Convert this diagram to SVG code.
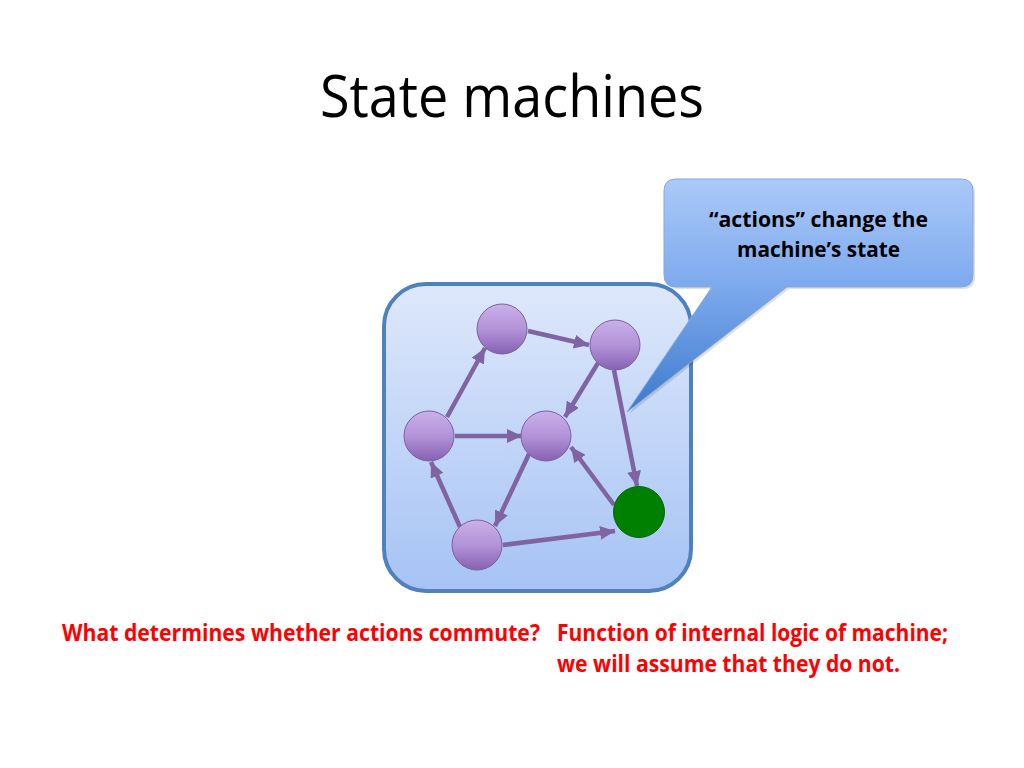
<svg xmlns="http://www.w3.org/2000/svg" width="1024" height="768" viewBox="0 0 1024 768">
<defs>
<linearGradient id="boxg" x1="0" y1="0" x2="0" y2="1">
<stop offset="0" stop-color="#dee8fb"/>
<stop offset="1" stop-color="#a6c3f5"/>
</linearGradient>
<linearGradient id="callg" gradientUnits="userSpaceOnUse" x1="0" y1="179" x2="0" y2="413">
<stop offset="0" stop-color="#abc9f8"/>
<stop offset="0.45" stop-color="#7eaaee"/>
<stop offset="1" stop-color="#3c7acb"/>
</linearGradient>
<linearGradient id="nodeg" x1="0" y1="0" x2="0" y2="1">
<stop offset="0" stop-color="#cbb0ea"/>
<stop offset="0.5" stop-color="#b293d8"/>
<stop offset="1" stop-color="#8761b2"/>
</linearGradient>
<marker id="ah" markerUnits="userSpaceOnUse" markerWidth="16" markerHeight="14" refX="15" refY="7" orient="auto">
<path d="M0,0 L15,7 L0,14 Z" fill="#8064a2"/>
</marker>
<style>
.node{fill:url(#nodeg);stroke:#7d5fa0;stroke-width:1}
.edge{stroke:#8064a2;stroke-width:4.5;fill:none;marker-end:url(#ah)}
.title{font-family:"Open Sans","Noto Sans",sans-serif;font-size:58px;fill:#000}
.red{font-family:"Open Sans","Noto Sans",sans-serif;font-weight:bold;font-size:22.5px;fill:#ff0000}
.call{font-family:"Open Sans","Noto Sans",sans-serif;font-weight:bold;font-size:21px;fill:#000}
</style>
</defs>
<rect width="1024" height="768" fill="#ffffff"/>
<text class="title" x="320" y="117" textLength="384" lengthAdjust="spacingAndGlyphs">State machines</text>

<g id="machine">
<rect x="384" y="284" width="307" height="307" rx="42" ry="42" fill="url(#boxg)" stroke="#4f81bd" stroke-width="4"/>
</g>

<g id="connectors">
<line class="edge" x1="447" y1="417" x2="485" y2="348"/>
<line class="edge" x1="528" y1="331" x2="589" y2="345"/>
<line class="edge" x1="598" y1="363" x2="565" y2="417"/>
<line class="edge" x1="614" y1="370" x2="637" y2="486"/>
<line class="edge" x1="455" y1="436" x2="522" y2="436"/>
<line class="edge" x1="529" y1="454" x2="495" y2="526"/>
<line class="edge" x1="460" y1="527" x2="431" y2="462"/>
<line class="edge" x1="614" y1="505" x2="571" y2="447"/>
<line class="edge" x1="503" y1="545" x2="615" y2="531"/>
</g>

<g id="nodeA"><circle class="node" cx="502" cy="329" r="25"/></g>
<g id="nodeB"><circle class="node" cx="615" cy="345" r="25"/></g>
<g id="nodeC"><circle class="node" cx="429" cy="436" r="25"/></g>
<g id="nodeD"><circle class="node" cx="546" cy="436" r="25"/></g>
<g id="nodeE"><circle class="node" cx="477" cy="545" r="25"/></g>
<g id="nodeF"><circle cx="639" cy="512" r="25.5" fill="#008000" stroke="#006a00" stroke-width="1"/></g>

<g id="callout">
<path d="M678,181 H963 Q975,181 975,193 V277 Q975,289 963,289 H789 L629,414 L714,289 H678 Q666,289 666,277 V193 Q666,181 678,181 Z" fill="#000" opacity="0.12"/>
<path d="M676,179 H961 Q973,179 973,191 V275 Q973,287 961,287 H787 L627,412 L712,287 H676 Q664,287 664,275 V191 Q664,179 676,179 Z" fill="url(#callg)" stroke="#86a9dc" stroke-width="1"/>
<text class="call" x="709" y="227" textLength="219" lengthAdjust="spacingAndGlyphs">“actions” change the</text>
<text class="call" x="737" y="257" textLength="163" lengthAdjust="spacingAndGlyphs">machine’s state</text>
</g>

<g id="notes">
<text class="red" x="62" y="641" textLength="478" lengthAdjust="spacingAndGlyphs">What determines whether actions commute?</text>
<text class="red" x="557" y="641" textLength="391" lengthAdjust="spacingAndGlyphs">Function of internal logic of machine;</text>
<text class="red" x="557" y="672" textLength="343" lengthAdjust="spacingAndGlyphs">we will assume that they do not.</text>
</g>
</svg>
